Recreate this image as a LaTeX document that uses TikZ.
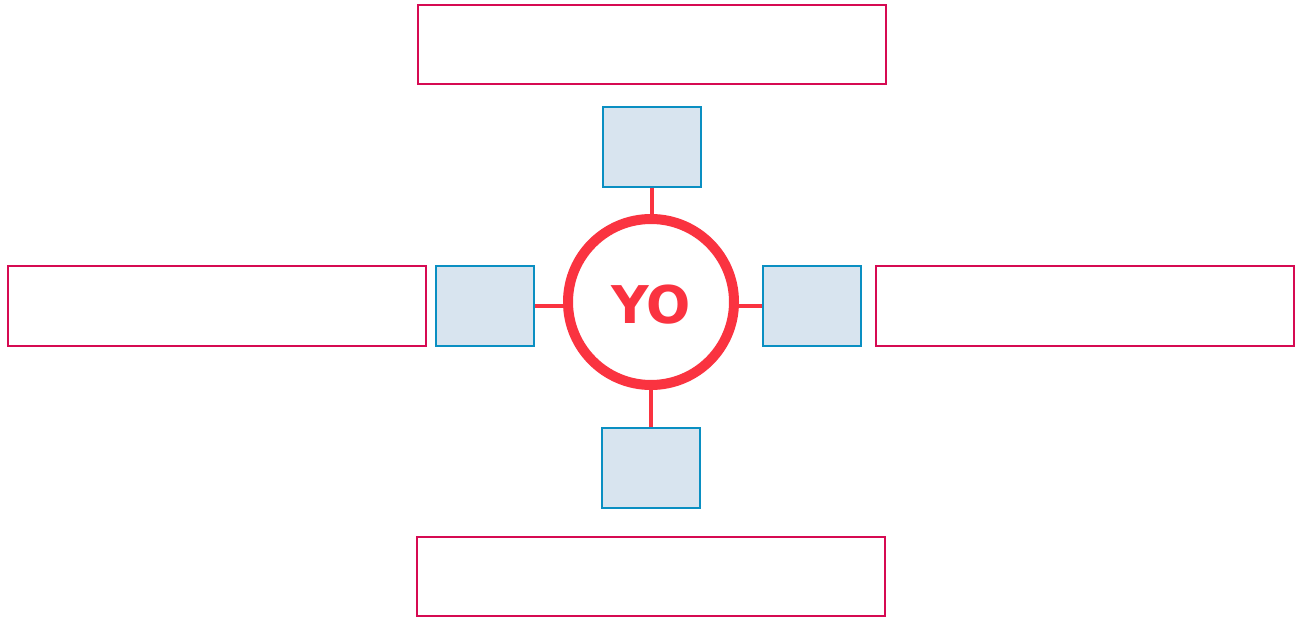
\documentclass[tikz,border=0pt]{standalone}
\usepackage{fontspec}
\newfontfamily\yofont{DejaVu Sans}
\definecolor{pinkc}{HTML}{D60A52}
\definecolor{bluec}{HTML}{0A8FC2}
\definecolor{bluefill}{HTML}{D8E4EF}
\definecolor{redc}{HTML}{FA3340}
\tikzset{
  outbox/.style={draw=pinkc, line width=2.5pt, fill=white},
  inbox/.style={draw=bluec, line width=2pt, fill=bluefill},
  link/.style={draw=redc, line width=4pt},
}
\begin{document}
\begin{tikzpicture}[x=1pt,y=-1pt]
\useasboundingbox (0,0) rectangle (1299,617);
% outer pink boxes
\draw[outbox] (418,5) rectangle (886,84) coordinate (pt);
\draw[outbox] (417,537) rectangle (885,616);
\draw[outbox] (8,266) rectangle (426,346);
\draw[outbox] (876,266) rectangle (1294,346);
% blue boxes as nodes
\node[inbox, minimum width=98pt, minimum height=80pt, inner sep=0pt, anchor=center] (bt) at (652,147) {};
\node[inbox, minimum width=98pt, minimum height=80pt, inner sep=0pt, anchor=center] (bb) at (651,468) {};
\node[inbox, minimum width=98pt, minimum height=80pt, inner sep=0pt, anchor=center] (bl) at (485,306) {};
\node[inbox, minimum width=98pt, minimum height=80pt, inner sep=0pt, anchor=center] (br) at (812,306) {};
% circle
\node[circle, draw=redc, line width=10pt, fill=white, minimum size=166pt, inner sep=0pt] (yo) at (651,302) {};
\node[text=redc, font=\yofont\bfseries\fontsize{52}{52}\selectfont] at (651,305) {YO};
% connectors
\draw[link] (bt.south) -- (bt.south |- yo.north);
\draw[link] (bb.north) -- (bb.north |- yo.south);
\draw[link] (bl.east) -- (yo.west |- bl.east);
\draw[link] (br.west) -- (yo.east |- br.west);
\end{tikzpicture}
\end{document}
